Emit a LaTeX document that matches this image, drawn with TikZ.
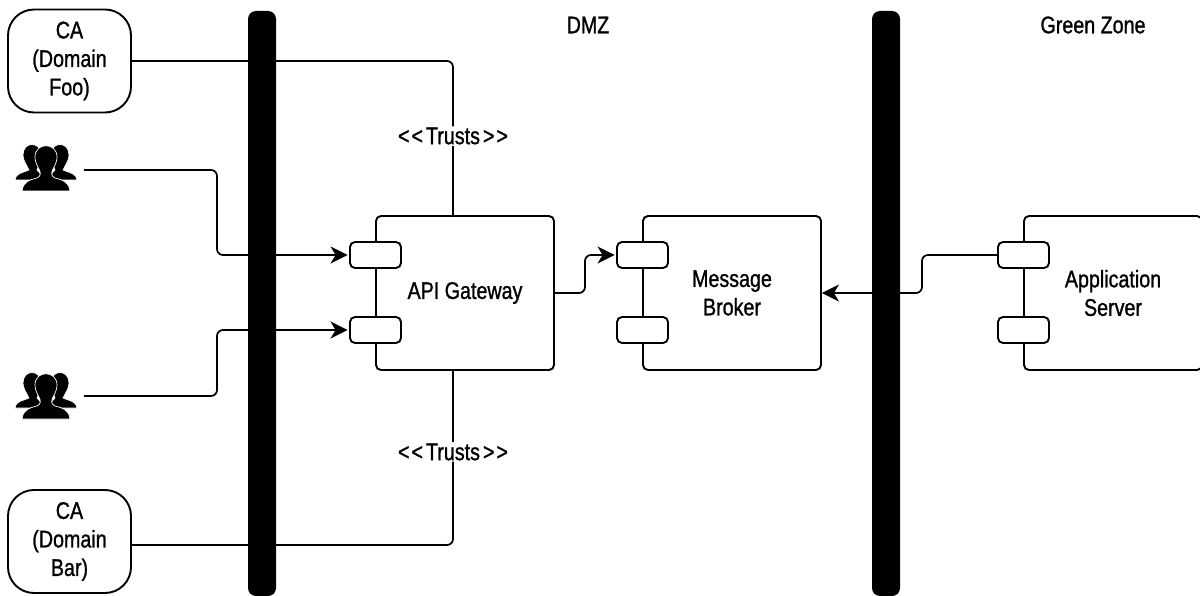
\documentclass[tikz,border=0pt]{standalone}
\usepackage{fontspec}
\setmainfont[FakeStretch=0.82,FakeBold=1.1]{Liberation Sans}
\usetikzlibrary{arrows.meta}
\pgfdeclarelayer{front}
\pgfsetlayers{main,front}
\newcommand{\ltlt}{<\kern2pt<\kern3pt}
\newcommand{\gtgt}{\kern3pt>\kern2pt>}
\tikzset{
  x=1pt,y=-1pt,
  every node/.style={font=\fontsize{24}{28.5}\selectfont,text=black},
  cabox/.style={draw=black,line width=1.9pt,rounded corners=26pt,fill=white,minimum width=123pt,minimum height=103pt,align=center,inner sep=0pt},
  comp/.style={draw=black,line width=1.9pt,rounded corners=5pt,fill=white,minimum width=178pt,minimum height=154pt,align=center,inner sep=0pt},
  port/.style={draw=black,line width=1.9pt,rounded corners=5pt,fill=white,minimum width=51pt,minimum height=26pt,inner sep=0pt},
  bar/.style={fill=black,rounded corners=8pt,minimum width=28pt,minimum height=585pt,inner sep=0pt},
  conn/.style={draw=black,line width=1.7pt,rounded corners=6pt},
  flow/.style={conn,-{Stealth[length=17pt,width=17pt,inset=5pt]}},
  usr/.style={minimum width=76pt,minimum height=44pt,inner sep=0pt},
  lbl/.style={fill=white,inner sep=1pt},
  person/.style={fill=black,draw=white,line width=0.7pt},
  pics/people/.style={code={
    % side figures
    \path[person] (-31,11) .. controls (-30,4) and (-24,4) .. (-17,1) .. controls (-20,-5) and (-23,-9) .. (-23,-14)
       .. controls (-23,-28) and (-5,-28) .. (-5,-14) .. controls (-5,-8) and (-7,-4) .. (-9,1) -- (0,11) -- cycle;
    \path[person] (31,11) .. controls (30,4) and (24,4) .. (17,1) .. controls (20,-5) and (23,-9) .. (23,-14)
       .. controls (23,-28) and (5,-28) .. (5,-14) .. controls (5,-8) and (7,-4) .. (9,1) -- (0,11) -- cycle;
    % front figure
    \path[person] (-24,22) .. controls (-23,13) and (-17,11) .. (-9,9) .. controls (-5,7) and (-5,4) .. (-7,0)
       .. controls (-10,-5) and (-11,-9) .. (-11,-12) .. controls (-11,-27) and (11,-27) .. (11,-12)
       .. controls (11,-9) and (10,-5) .. (7,0) .. controls (5,4) and (5,7) .. (9,9)
       .. controls (17,11) and (23,13) .. (24,22) -- cycle;
  }}
}
\begin{document}
\begin{tikzpicture}
\useasboundingbox (0,0) rectangle (1200,596);
\fill[white] (0,0) rectangle (1200,596);

% zones
\begin{pgfonlayer}{front}
\node[bar] (b1) at (262,303.5) {};
\node[bar] (b2) at (886,303.5) {};
\end{pgfonlayer}
\node (dmz) at (588,25) {DMZ};
\node (gz) at (1093,25) {Green Zone};

% certificate authorities
\node[cabox] (ca1) at (69.5,61) {CA\\(Domain\\Foo)};
\node[cabox] (ca2) at (69.5,541.5) {CA\\(Domain\\Bar)};

% users
\node[usr] (u1) at (46,170) {};
\node[usr] (u2) at (46,396) {};
\pic at (46,169) {people};
\pic at (46,397) {people};

% components
\node[comp] (gw) at (465,293) {API Gateway};
\node[comp] (mb) at (732,293) {Message\\Broker};
\node[comp] (as) at (1113,293) {Application\\Server};
\node[port] (g1) at (375.5,255) {};
\node[port] (g2) at (375.5,330) {};
\node[port] (m1) at (642.5,255) {};
\node[port] (m2) at (642.5,330) {};
\node[port] (a1) at (1023.5,255) {};
\node[port] (a2) at (1023.5,330) {};

% labels
\node[lbl] (t1) at (453,136) {\ltlt Trusts\gtgt};
\node[lbl] (t2) at (453,452) {\ltlt Trusts\gtgt};

% bend columns
\coordinate (j1) at (217,212);
\coordinate (j2) at (217,360);
\coordinate (j3) at (585,274);
\coordinate (j4) at (922,274);

% connectors
\draw[conn] (ca1.east) -| (t1.north);
\draw[conn] (t1.south) -- (t1.south |- gw.north);
\draw[conn] (ca2.east |- 0,545) -| (t2.south);
\draw[conn] (t2.north) -- (t2.north |- gw.south);
\draw[flow,shorten >=1.5pt] (u1.east) -| (j1) |- (g1.west);
\draw[flow,shorten >=1.5pt] (u2.east) -| (j2) |- (g2.west);
\draw[flow,shorten >=1.5pt] (gw.east) -| (j3) |- (m1.west);
\draw[flow] (a1.west) -| (j4) |- (mb.east);
\end{tikzpicture}
\end{document}
